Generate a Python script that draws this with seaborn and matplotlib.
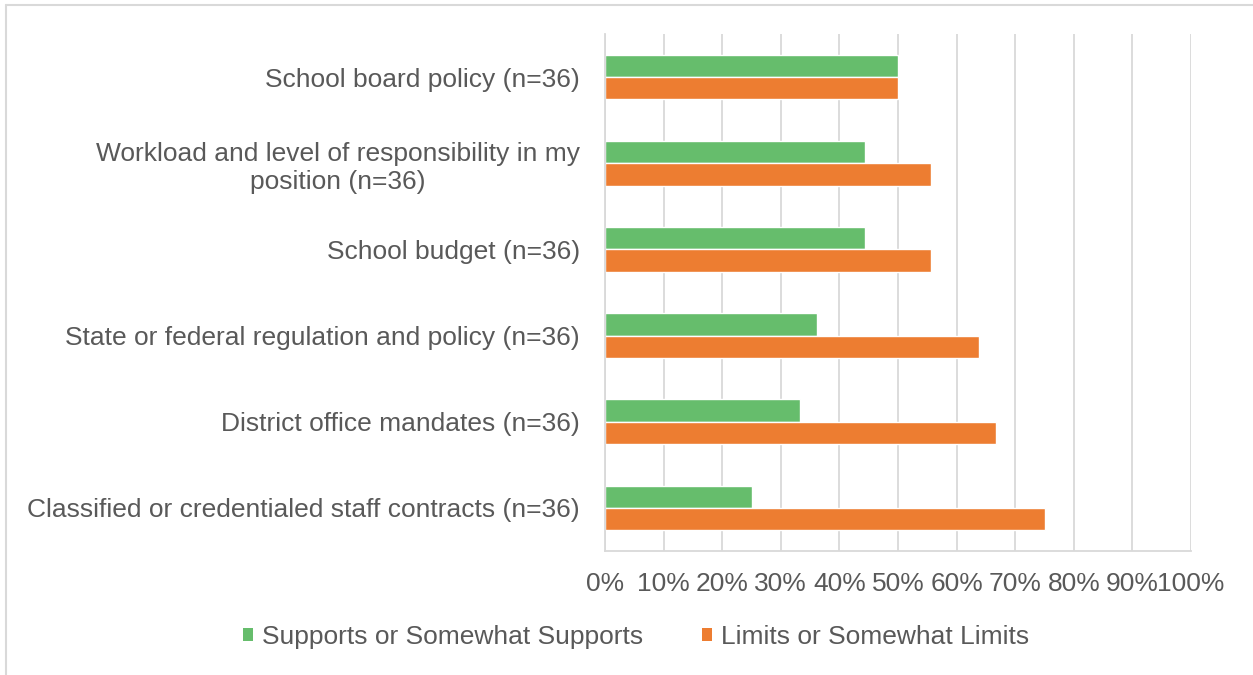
import matplotlib
matplotlib.use("Agg")
import matplotlib.pyplot as plt
from matplotlib.lines import Line2D
from matplotlib.patches import Patch
import seaborn as sns
import pandas as pd

categories = [
    "School board policy (n=36)",
    "Workload and level of responsibility in my\nposition (n=36)",
    "School budget (n=36)",
    "State or federal regulation and policy (n=36)",
    "District office mandates (n=36)",
    "Classified or credentialed staff contracts (n=36)",
]
supports = [50.0, 44.4, 44.4, 36.1, 33.3, 25.0]
limits = [50.0, 55.6, 55.6, 63.9, 66.7, 75.0]
series = ["Supports or Somewhat Supports", "Limits or Somewhat Limits"]
colors = ["#66bd6c", "#ed7d31"]
ticks = [0, 10, 20, 30, 40, 50, 60, 70, 80, 90, 100]

df = pd.DataFrame({
    "category": categories * 2,
    "value": supports + limits,
    "series": [series[0]] * len(categories) + [series[1]] * len(categories),
})

sns.set_theme(style="white")
plt.rcParams["font.family"] = ["Liberation Sans", "DejaVu Sans"]
text_color = "#595959"
grid_color = "#d9d9d9"
fs = 19

fig = plt.figure(figsize=(12.53, 6.75), dpi=100)
ax = fig.add_axes([605 / 1253, 1 - 551 / 675, (1191 - 605) / 1253, (551 - 34) / 675])

sns.barplot(data=df, y="category", x="value", hue="series", order=categories,
            hue_order=series, palette=colors, width=0.52, orient="h",
            saturation=1, legend=False, ax=ax)

ax.set_xlim(0, 100)
ax.set_ylim(5.5, -0.5)
ax.set_xticks(ticks)
ax.set_xticklabels([f"{t}%" for t in ticks])
ax.set_xlabel("")
ax.set_ylabel("")
ax.xaxis.grid(True, color=grid_color, linewidth=1.3)
ax.set_axisbelow(True)
for side in ["top", "right"]:
    ax.spines[side].set_visible(False)
for side in ["left", "bottom"]:
    ax.spines[side].set_color(grid_color)
    ax.spines[side].set_linewidth(1.3)
ax.tick_params(axis="x", length=0, pad=15, labelsize=fs, labelcolor=text_color)
ax.tick_params(axis="y", length=0, pad=18, labelsize=fs, labelcolor=text_color)
for lbl in ax.get_yticklabels():
    lbl.set_multialignment("center")
    lbl.set_linespacing(1.2)

handles = [Patch(facecolor=c, edgecolor="none") for c in colors]
fig.legend(handles, series, loc="center", bbox_to_anchor=(636 / 1253, 1 - 637 / 675),
           ncol=2, frameon=False, fontsize=fs, labelcolor=text_color,
           handlelength=0.4, handleheight=0.4, handletextpad=0.35, columnspacing=2.2)

# light outer frame
fig.add_artist(Line2D([6 / 1253, 6 / 1253], [0, 1 - 5 / 675], color=grid_color,
                      linewidth=1.5, transform=fig.transFigure))
fig.add_artist(Line2D([6 / 1253, 1], [1 - 5 / 675, 1 - 5 / 675], color=grid_color,
                      linewidth=1.5, transform=fig.transFigure))

fig.savefig("out.png", dpi=100, facecolor="white")
